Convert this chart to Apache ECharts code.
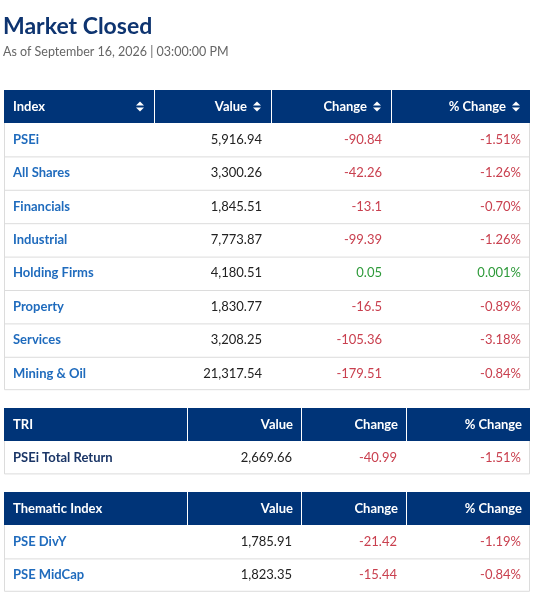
<!DOCTYPE html>
<html><head><meta charset="utf-8">
<script src="https://cdn.jsdelivr.net/npm/echarts@6/dist/echarts.min.js"></script>
<style>html,body{margin:0;padding:0;background:#fff}#main{width:536px;height:601px}</style>
</head><body><div id="main"></div>
<script>
// index table
const indexNames = ['PSEi', 'All Shares', 'Financials', 'Industrial', 'Holding Firms', 'Property', 'Services', 'Mining & Oil'];
const indexValues = ['5,916.94', '3,300.26', '1,845.51', '7,773.87', '4,180.51', '1,830.77', '3,208.25', '21,317.54'];
const indexChanges = [-90.84, -42.26, -13.1, -99.39, 0.05, -16.5, -105.36, -179.51];
const indexPct = ['-1.51%', '-1.26%', '-0.70%', '-1.26%', '0.001%', '-0.89%', '-3.18%', '-0.84%'];
// TRI table
const triNames = ['PSEi Total Return'];
const triValues = ['2,669.66'];
const triChanges = [-40.99];
const triPct = ['-1.51%'];
// thematic table
const themeNames = ['PSE DivY', 'PSE MidCap'];
const themeValues = ['1,785.91', '1,823.35'];
const themeChanges = [-21.42, -15.44];
const themePct = ['-1.19%', '-0.84%'];

const NAVY = '#003478', RED = '#c9404f', GREEN = '#2e9a3a', BORDER = '#dcdcdc';
const FONT = 'Lato, "Open Sans", sans-serif';
const L = 4, R = 530, HH = 33, RH = 33.4;
const els = [];

function txt(x, y, s, opt) {
    els.push({ type: 'text', x: x, y: y, style: Object.assign({ text: s, fontFamily: FONT, fontSize: 13, verticalAlign: 'middle' }, opt) });
}
function sortIcon(x, y) {
    els.push({ type: 'polygon', shape: { points: [[x - 4, y - 1], [x + 4, y - 1], [x, y - 5]] }, style: { fill: '#fff' } });
    els.push({ type: 'polygon', shape: { points: [[x - 4, y + 1], [x + 4, y + 1], [x, y + 5]] }, style: { fill: '#fff' } });
}
function table(top, cols, headers, names, values, changes, pcts, nameColor, sortable) {
    const h = HH + names.length * RH;
    els.push({ type: 'rect', shape: { x: L + 0.5, y: top + 0.5, width: R - L - 1, height: h - 1 }, style: { fill: '#fff', stroke: BORDER } });
    els.push({ type: 'rect', shape: { x: L, y: top, width: R - L, height: HH }, style: { fill: NAVY } });
    cols.forEach(c => els.push({ type: 'line', shape: { x1: c + 0.5, y1: top, x2: c + 0.5, y2: top + HH }, style: { stroke: '#fff', lineWidth: 1 } }));
    const edges = [cols[0], cols[1], cols[2], R];
    const off = sortable ? 24 : 8;
    const hy = top + HH / 2;
    txt(L + 9, hy, headers[0], { fill: '#fff', fontWeight: 'bold' });
    if (sortable) sortIcon(edges[0] - 14, hy);
    for (let i = 1; i < 4; i++) {
        txt(edges[i] - off, hy, headers[i], { fill: '#fff', fontWeight: 'bold', align: 'right' });
        if (sortable) sortIcon(edges[i] - 14, hy);
    }
    names.forEach((n, i) => {
        const y = top + HH + i * RH;
        if (i > 0) els.push({ type: 'line', shape: { x1: L, y1: y + 0.5, x2: R, y2: y + 0.5 }, style: { stroke: BORDER } });
        const cy = y + RH / 2;
        const col = changes[i] < 0 ? RED : GREEN;
        txt(L + 9, cy, n, { fill: nameColor, fontWeight: 'bold' });
        txt(edges[1] - 9, cy, values[i], { fill: '#222', align: 'right' });
        txt(edges[2] - 9, cy, String(changes[i]), { fill: col, align: 'right' });
        txt(edges[3] - 9, cy, pcts[i], { fill: col, align: 'right' });
    });
}

els.push({ type: 'text', x: 3, y: 27, style: { text: 'Market Closed', fontFamily: FONT, fontSize: 23, fontWeight: 'bold', fill: '#0e3470', verticalAlign: 'middle' } });
els.push({ type: 'text', x: 3, y: 52, style: { text: 'As of September 16, 2026 | 03:00:00 PM', fontFamily: FONT, fontSize: 12.5, fill: '#666', verticalAlign: 'middle' } });

table(90, [154, 271, 391], ['Index', 'Value', 'Change', '% Change'], indexNames, indexValues, indexChanges, indexPct, '#1f6bbd', true);
table(408, [187, 301, 406], ['TRI', 'Value', 'Change', '% Change'], triNames, triValues, triChanges, triPct, '#1a3566', false);
table(492, [187, 301, 406], ['Thematic Index', 'Value', 'Change', '% Change'], themeNames, themeValues, themeChanges, themePct, '#1f6bbd', false);

const chart = echarts.init(document.getElementById('main'));
chart.setOption({ backgroundColor: '#fff', graphic: { elements: els } });
</script></body></html>
